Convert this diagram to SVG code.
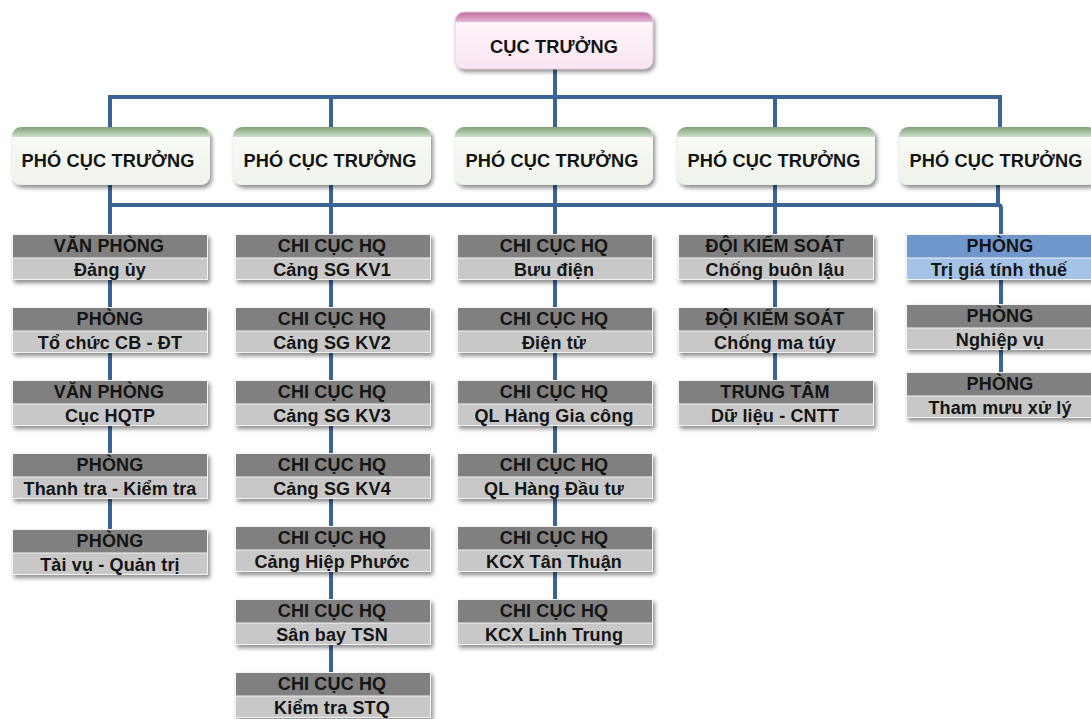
<svg xmlns="http://www.w3.org/2000/svg" width="1091" height="719" viewBox="0 0 1091 719">
<defs>
<filter id="sh" x="-10%" y="-20%" width="125%" height="160%">
<feDropShadow dx="2" dy="3" stdDeviation="2" flood-color="#000" flood-opacity="0.45"/>
</filter>
<linearGradient id="gPink" x1="0" y1="0" x2="0" y2="1">
<stop offset="0" stop-color="#b86b9e"/><stop offset="1" stop-color="#e6b8d6"/>
</linearGradient>
<linearGradient id="gGreen" x1="0" y1="0" x2="0" y2="1">
<stop offset="0" stop-color="#7fa27a"/><stop offset="1" stop-color="#cddfc8"/>
</linearGradient>
<linearGradient id="gPinkBody" x1="0" y1="0" x2="0" y2="1">
<stop offset="0" stop-color="#fff6fb"/><stop offset="1" stop-color="#f8e6f2"/>
</linearGradient>
<linearGradient id="gGreenBody" x1="0" y1="0" x2="0" y2="1">
<stop offset="0" stop-color="#f9fbf7"/><stop offset="1" stop-color="#eef3eb"/>
</linearGradient>
<clipPath id="cTop"><rect x="455" y="12" width="198" height="57" rx="9"/></clipPath>
<clipPath id="cP1"><rect x="12" y="127" width="198" height="58" rx="9"/></clipPath>
<clipPath id="cP2"><rect x="233" y="127" width="198" height="58" rx="9"/></clipPath>
<clipPath id="cP3"><rect x="455" y="127" width="198" height="58" rx="9"/></clipPath>
<clipPath id="cP4"><rect x="677" y="127" width="198" height="58" rx="9"/></clipPath>
<clipPath id="cP5"><rect x="899" y="127" width="198" height="58" rx="9"/></clipPath>
</defs>
<style>
text{font-family:"Liberation Sans",Arial,sans-serif;font-weight:bold;fill:#141414;text-anchor:middle;letter-spacing:0.15px}
.big{font-size:18.2px}
.t{font-size:18px}
.hd{fill:#808080}
.bd{fill:#c8c8c8}
.bhd{fill:#6f97cc}
.bbd{fill:#a5c3e6}
.edge{fill:none;stroke:#f4f4f4;stroke-width:1}
.ln{fill:none;stroke:#3a6494;stroke-width:4}
</style>

<g id="connectors">
<path class="ln" d="M555 69 V127 M110 127 V97 H1000 V127 M331 97 V127 M775 97 V127"/>
<path class="ln" d="M110 185 V529 M331 185 V672 M555 185 V599 M775 185 V380 M998 185 V205 M110 205 H998 Q1001 205 1001 208 V372"/>
</g>

<g id="cuc-truong">
<rect x="455" y="12" width="198" height="57" rx="9" fill="url(#gPinkBody)" filter="url(#sh)"/>
<rect x="455" y="12" width="198" height="10" fill="url(#gPink)" clip-path="url(#cTop)"/>
<rect x="455" y="12" width="198" height="57" rx="9" fill="none" stroke="#e8d2e0" stroke-width="1"/>
<text class="big" x="554" y="53">CỤC TRƯỞNG</text>
</g>

<g id="pho-1">
<rect x="12" y="127" width="198" height="58" rx="9" fill="url(#gGreenBody)" filter="url(#sh)"/>
<rect x="12" y="127" width="198" height="10" fill="url(#gGreen)" clip-path="url(#cP1)"/>
<text class="big" x="108" y="167">PHÓ CỤC TRƯỞNG</text>
</g>
<g id="pho-2">
<rect x="233" y="127" width="198" height="58" rx="9" fill="url(#gGreenBody)" filter="url(#sh)"/>
<rect x="233" y="127" width="198" height="10" fill="url(#gGreen)" clip-path="url(#cP2)"/>
<text class="big" x="330" y="167">PHÓ CỤC TRƯỞNG</text>
</g>
<g id="pho-3">
<rect x="455" y="127" width="198" height="58" rx="9" fill="url(#gGreenBody)" filter="url(#sh)"/>
<rect x="455" y="127" width="198" height="10" fill="url(#gGreen)" clip-path="url(#cP3)"/>
<text class="big" x="552" y="167">PHÓ CỤC TRƯỞNG</text>
</g>
<g id="pho-4">
<rect x="677" y="127" width="198" height="58" rx="9" fill="url(#gGreenBody)" filter="url(#sh)"/>
<rect x="677" y="127" width="198" height="10" fill="url(#gGreen)" clip-path="url(#cP4)"/>
<text class="big" x="774" y="167">PHÓ CỤC TRƯỞNG</text>
</g>
<g id="pho-5">
<rect x="899" y="127" width="198" height="58" rx="9" fill="url(#gGreenBody)" filter="url(#sh)"/>
<rect x="899" y="127" width="198" height="10" fill="url(#gGreen)" clip-path="url(#cP5)"/>
<text class="big" x="996" y="167">PHÓ CỤC TRƯỞNG</text>
</g>

<!-- Column 1 -->
<g id="c1-1" transform="translate(12,234)">
<g filter="url(#sh)"><rect class="hd" width="196" height="24"/><rect class="bd" y="24" width="196" height="22"/></g>
<rect class="edge" x="0.5" y="0.5" width="195" height="45"/><path class="edge" d="M0 24 H196"/>
<text class="t" x="97" y="18">VĂN PHÒNG</text><text class="t" x="98" y="42">Đảng ủy</text>
</g>
<g id="c1-2" transform="translate(12,307)">
<g filter="url(#sh)"><rect class="hd" width="196" height="24"/><rect class="bd" y="24" width="196" height="22"/></g>
<rect class="edge" x="0.5" y="0.5" width="195" height="45"/><path class="edge" d="M0 24 H196"/>
<text class="t" x="98" y="18">PHÒNG</text><text class="t" x="98" y="42">Tổ chức CB - ĐT</text>
</g>
<g id="c1-3" transform="translate(12,380)">
<g filter="url(#sh)"><rect class="hd" width="196" height="24"/><rect class="bd" y="24" width="196" height="22"/></g>
<rect class="edge" x="0.5" y="0.5" width="195" height="45"/><path class="edge" d="M0 24 H196"/>
<text class="t" x="97" y="18">VĂN PHÒNG</text><text class="t" x="98" y="42">Cục HQTP</text>
</g>
<g id="c1-4" transform="translate(12,453)">
<g filter="url(#sh)"><rect class="hd" width="196" height="24"/><rect class="bd" y="24" width="196" height="22"/></g>
<rect class="edge" x="0.5" y="0.5" width="195" height="45"/><path class="edge" d="M0 24 H196"/>
<text class="t" x="98" y="18">PHÒNG</text><text class="t" x="98" y="42">Thanh tra - Kiểm tra</text>
</g>
<g id="c1-5" transform="translate(12,529)">
<g filter="url(#sh)"><rect class="hd" width="196" height="24"/><rect class="bd" y="24" width="196" height="22"/></g>
<rect class="edge" x="0.5" y="0.5" width="195" height="45"/><path class="edge" d="M0 24 H196"/>
<text class="t" x="98" y="18">PHÒNG</text><text class="t" x="98" y="42">Tài vụ - Quản trị</text>
</g>

<!-- Column 2 -->
<g id="c2-1" transform="translate(235,234)">
<g filter="url(#sh)"><rect class="hd" width="196" height="24"/><rect class="bd" y="24" width="196" height="22"/></g>
<rect class="edge" x="0.5" y="0.5" width="195" height="45"/><path class="edge" d="M0 24 H196"/>
<text class="t" x="97" y="18">CHI CỤC HQ</text><text class="t" x="97" y="42">Cảng SG KV1</text>
</g>
<g id="c2-2" transform="translate(235,307)">
<g filter="url(#sh)"><rect class="hd" width="196" height="24"/><rect class="bd" y="24" width="196" height="22"/></g>
<rect class="edge" x="0.5" y="0.5" width="195" height="45"/><path class="edge" d="M0 24 H196"/>
<text class="t" x="97" y="18">CHI CỤC HQ</text><text class="t" x="97" y="42">Cảng SG KV2</text>
</g>
<g id="c2-3" transform="translate(235,380)">
<g filter="url(#sh)"><rect class="hd" width="196" height="24"/><rect class="bd" y="24" width="196" height="22"/></g>
<rect class="edge" x="0.5" y="0.5" width="195" height="45"/><path class="edge" d="M0 24 H196"/>
<text class="t" x="97" y="18">CHI CỤC HQ</text><text class="t" x="97" y="42">Cảng SG KV3</text>
</g>
<g id="c2-4" transform="translate(235,453)">
<g filter="url(#sh)"><rect class="hd" width="196" height="24"/><rect class="bd" y="24" width="196" height="22"/></g>
<rect class="edge" x="0.5" y="0.5" width="195" height="45"/><path class="edge" d="M0 24 H196"/>
<text class="t" x="97" y="18">CHI CỤC HQ</text><text class="t" x="97" y="42">Cảng SG KV4</text>
</g>
<g id="c2-5" transform="translate(235,526)">
<g filter="url(#sh)"><rect class="hd" width="196" height="24"/><rect class="bd" y="24" width="196" height="22"/></g>
<rect class="edge" x="0.5" y="0.5" width="195" height="45"/><path class="edge" d="M0 24 H196"/>
<text class="t" x="97" y="18">CHI CỤC HQ</text><text class="t" x="97" y="42">Cảng Hiệp Phước</text>
</g>
<g id="c2-6" transform="translate(235,599)">
<g filter="url(#sh)"><rect class="hd" width="196" height="24"/><rect class="bd" y="24" width="196" height="22"/></g>
<rect class="edge" x="0.5" y="0.5" width="195" height="45"/><path class="edge" d="M0 24 H196"/>
<text class="t" x="97" y="18">CHI CỤC HQ</text><text class="t" x="97" y="42">Sân bay TSN</text>
</g>
<g id="c2-7" transform="translate(235,672)">
<g filter="url(#sh)"><rect class="hd" width="196" height="24"/><rect class="bd" y="24" width="196" height="22"/></g>
<rect class="edge" x="0.5" y="0.5" width="195" height="45"/><path class="edge" d="M0 24 H196"/>
<text class="t" x="97" y="18">CHI CỤC HQ</text><text class="t" x="97" y="42">Kiểm tra STQ</text>
</g>

<!-- Column 3 -->
<g id="c3-1" transform="translate(457,234)">
<g filter="url(#sh)"><rect class="hd" width="196" height="24"/><rect class="bd" y="24" width="196" height="22"/></g>
<rect class="edge" x="0.5" y="0.5" width="195" height="45"/><path class="edge" d="M0 24 H196"/>
<text class="t" x="97" y="18">CHI CỤC HQ</text><text class="t" x="97" y="42">Bưu điện</text>
</g>
<g id="c3-2" transform="translate(457,307)">
<g filter="url(#sh)"><rect class="hd" width="196" height="24"/><rect class="bd" y="24" width="196" height="22"/></g>
<rect class="edge" x="0.5" y="0.5" width="195" height="45"/><path class="edge" d="M0 24 H196"/>
<text class="t" x="97" y="18">CHI CỤC HQ</text><text class="t" x="97" y="42">Điện tử</text>
</g>
<g id="c3-3" transform="translate(457,380)">
<g filter="url(#sh)"><rect class="hd" width="196" height="24"/><rect class="bd" y="24" width="196" height="22"/></g>
<rect class="edge" x="0.5" y="0.5" width="195" height="45"/><path class="edge" d="M0 24 H196"/>
<text class="t" x="97" y="18">CHI CỤC HQ</text><text class="t" x="97" y="42">QL Hàng Gia công</text>
</g>
<g id="c3-4" transform="translate(457,453)">
<g filter="url(#sh)"><rect class="hd" width="196" height="24"/><rect class="bd" y="24" width="196" height="22"/></g>
<rect class="edge" x="0.5" y="0.5" width="195" height="45"/><path class="edge" d="M0 24 H196"/>
<text class="t" x="97" y="18">CHI CỤC HQ</text><text class="t" x="97" y="42">QL Hàng Đầu tư</text>
</g>
<g id="c3-5" transform="translate(457,526)">
<g filter="url(#sh)"><rect class="hd" width="196" height="24"/><rect class="bd" y="24" width="196" height="22"/></g>
<rect class="edge" x="0.5" y="0.5" width="195" height="45"/><path class="edge" d="M0 24 H196"/>
<text class="t" x="97" y="18">CHI CỤC HQ</text><text class="t" x="97" y="42">KCX Tân Thuận</text>
</g>
<g id="c3-6" transform="translate(457,599)">
<g filter="url(#sh)"><rect class="hd" width="196" height="24"/><rect class="bd" y="24" width="196" height="22"/></g>
<rect class="edge" x="0.5" y="0.5" width="195" height="45"/><path class="edge" d="M0 24 H196"/>
<text class="t" x="97" y="18">CHI CỤC HQ</text><text class="t" x="97" y="42">KCX Linh Trung</text>
</g>

<!-- Column 4 -->
<g id="c4-1" transform="translate(678,234)">
<g filter="url(#sh)"><rect class="hd" width="196" height="24"/><rect class="bd" y="24" width="196" height="22"/></g>
<rect class="edge" x="0.5" y="0.5" width="195" height="45"/><path class="edge" d="M0 24 H196"/>
<text class="t" x="97" y="18">ĐỘI KIỂM SOÁT</text><text class="t" x="97" y="42">Chống buôn lậu</text>
</g>
<g id="c4-2" transform="translate(678,307)">
<g filter="url(#sh)"><rect class="hd" width="196" height="24"/><rect class="bd" y="24" width="196" height="22"/></g>
<rect class="edge" x="0.5" y="0.5" width="195" height="45"/><path class="edge" d="M0 24 H196"/>
<text class="t" x="97" y="18">ĐỘI KIỂM SOÁT</text><text class="t" x="97" y="42">Chống ma túy</text>
</g>
<g id="c4-3" transform="translate(678,380)">
<g filter="url(#sh)"><rect class="hd" width="196" height="24"/><rect class="bd" y="24" width="196" height="22"/></g>
<rect class="edge" x="0.5" y="0.5" width="195" height="45"/><path class="edge" d="M0 24 H196"/>
<text class="t" x="97" y="18">TRUNG TÂM</text><text class="t" x="97" y="42">Dữ liệu - CNTT</text>
</g>

<!-- Column 5 -->
<g id="c5-1" transform="translate(906,234)">
<g filter="url(#sh)"><rect class="bhd" width="196" height="24"/><rect class="bbd" y="24" width="196" height="22"/></g>
<rect class="edge" x="0.5" y="0.5" width="195" height="45"/><path class="edge" d="M0 24 H196"/>
<text class="t" x="94" y="18">PHÒNG</text><text class="t" x="93" y="42">Trị giá tính thuế</text>
</g>
<g id="c5-2" transform="translate(906,304)">
<g filter="url(#sh)"><rect class="hd" width="196" height="24"/><rect class="bd" y="24" width="196" height="22"/></g>
<rect class="edge" x="0.5" y="0.5" width="195" height="45"/><path class="edge" d="M0 24 H196"/>
<text class="t" x="94" y="18">PHÒNG</text><text class="t" x="94" y="42">Nghiệp vụ</text>
</g>
<g id="c5-3" transform="translate(906,372)">
<g filter="url(#sh)"><rect class="hd" width="196" height="24"/><rect class="bd" y="24" width="196" height="22"/></g>
<rect class="edge" x="0.5" y="0.5" width="195" height="45"/><path class="edge" d="M0 24 H196"/>
<text class="t" x="94" y="18">PHÒNG</text><text class="t" x="94" y="42">Tham mưu xử lý</text>
</g>
</svg>
